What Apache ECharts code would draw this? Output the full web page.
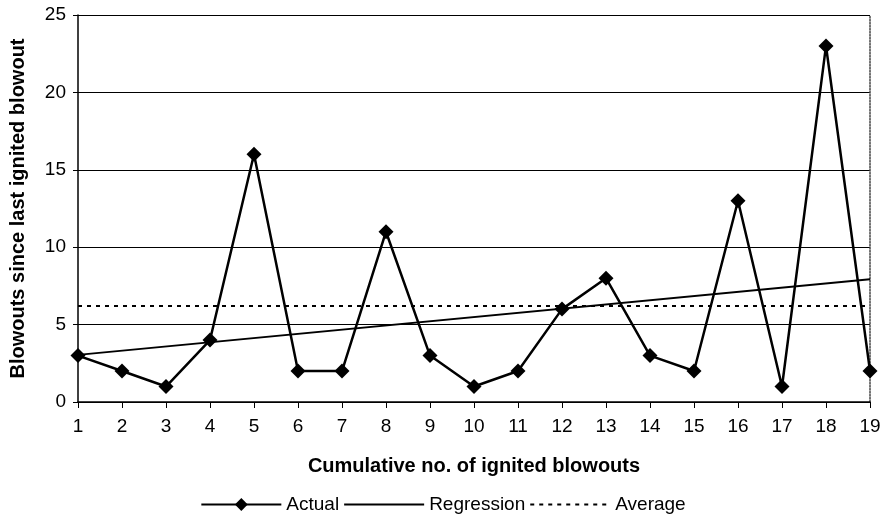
<!DOCTYPE html>
<html>
<head>
<meta charset="utf-8">
<script src="https://cdn.jsdelivr.net/npm/echarts@6/dist/echarts.min.js"></script>
<style>
  html, body { margin: 0; padding: 0; background: #fff; }
  #chart { width: 886px; height: 523px; }
</style>
</head>
<body>
<div id="chart"></div>
<script>
// data
var categories = ["1","2","3","4","5","6","7","8","9","10","11","12","13","14","15","16","17","18","19"];
var actual = [3, 2, 1, 4, 16, 2, 2, 11, 3, 1, 2, 6, 8, 3, 2, 13, 1, 23, 2];
// regression line: only the two end values, joined straight
var regression = [3.04, null, null, null, null, null, null, null, null, null, null, null, null, null, null, null, null, null, 7.93];
var average = [6.2, null, null, null, null, null, null, null, null, null, null, null, null, null, null, null, null, null, 6.2];
var yTicks = [0, 5, 10, 15, 20, 25];

var chart = echarts.init(document.getElementById("chart"));
var font = "Liberation Sans, Arial, sans-serif";

chart.setOption({
  animation: false,
  grid: { left: 77, right: 16, top: 15, bottom: 121 },
  textStyle: { fontFamily: font, color: "#000" },
  legend: {
    bottom: 4,
    left: "center",
    itemWidth: 80,
    itemHeight: 16,
    itemGap: 4,
    textStyle: { fontSize: 19, color: "#000", fontFamily: font },
    data: [
      { name: "Actual" },
      { name: "Regression", itemStyle: { opacity: 0 } },
      { name: "Average", itemStyle: { opacity: 0 } }
    ]
  },
  xAxis: [
    {
      type: "category",
      data: categories,
      boundaryGap: false,
      name: "Cumulative no. of ignited blowouts",
      nameLocation: "middle",
      nameGap: 54,
      nameTextStyle: { fontSize: 20, fontWeight: "bold", color: "#000" },
      axisLine: { lineStyle: { color: "#000", width: 1.5 } },
      axisTick: { show: true, length: 6, lineStyle: { color: "#000" }, alignWithLabel: true },
      axisLabel: { fontSize: 19, color: "#000", margin: 15 },
      splitLine: { show: false }
    }
  ],
  yAxis: [
    {
      type: "value",
      min: yTicks[0],
      max: yTicks[yTicks.length - 1],
      interval: 5,
      name: "Blowouts since last ignited blowout",
      nameLocation: "middle",
      nameGap: 50,
      nameTextStyle: { fontSize: 20, fontWeight: "bold", color: "#000" },
      axisLine: { show: true, lineStyle: { color: "#000", width: 1.5 } },
      axisTick: { show: true, length: 5, lineStyle: { color: "#000" } },
      axisLabel: { fontSize: 19, color: "#000", margin: 12 },
      splitLine: { show: true, lineStyle: { color: "#000", width: 1 } }
    },
    {
      // right-hand frame edge
      type: "value",
      position: "right",
      min: 0,
      max: 25,
      interval: 5,
      axisLine: { show: true, lineStyle: { color: "#444", type: "dotted", width: 1.5 } },
      axisTick: { show: false },
      axisLabel: { show: false },
      splitLine: { show: false }
    }
  ],
  series: [
    {
      name: "Actual",
      type: "line",
      data: actual,
      symbol: "diamond",
      symbolSize: 15,
      itemStyle: { color: "#000" },
      lineStyle: { color: "#000", width: 2.5 },
      z: 5
    },
    {
      name: "Regression",
      type: "line",
      data: regression,
      connectNulls: true,
      showSymbol: false,
      symbol: "none",
      itemStyle: { color: "#000" },
      lineStyle: { color: "#000", width: 1.8 }
    },
    {
      name: "Average",
      type: "line",
      data: average,
      connectNulls: true,
      showSymbol: false,
      symbol: "none",
      itemStyle: { color: "#000" },
      lineStyle: { color: "#000", width: 2, type: [4, 5] }
    }
  ]
});
</script>
</body>
</html>
